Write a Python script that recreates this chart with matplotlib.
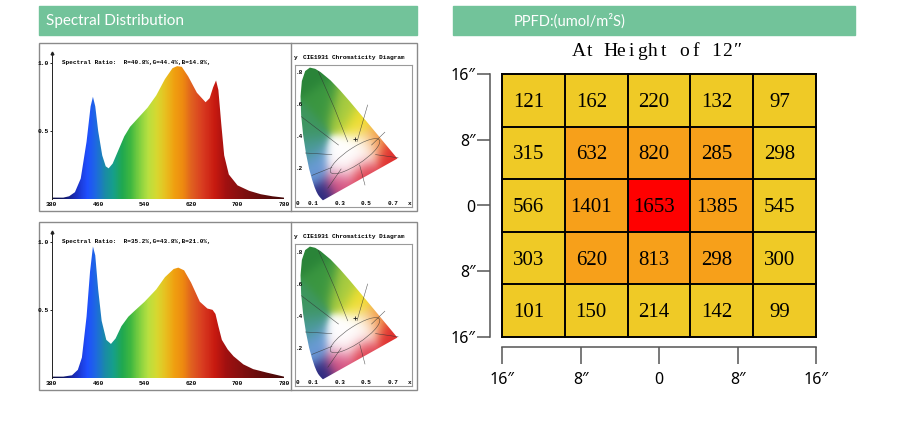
import numpy as np
import matplotlib
matplotlib.use('Agg')
import matplotlib.pyplot as plt
from matplotlib.colors import LinearSegmentedColormap, ListedColormap, Normalize, to_rgb
from matplotlib.patches import Rectangle, Polygon, Ellipse

# Spectrum 1 (top)
wl_1 = [380, 400, 410, 420, 430, 440, 447, 451, 455, 460, 467, 473, 478, 485, 495, 505, 515, 530,
        545, 560, 575, 588, 596, 604, 615, 630, 645, 652, 658, 663, 667, 672, 677, 685, 700, 720,
        740, 760, 780]
int_1 = [0.01, 0.01, 0.02, 0.05, 0.15, 0.42, 0.68, 0.75, 0.68, 0.50, 0.32, 0.24, 0.225, 0.26, 0.36,
         0.46, 0.53, 0.60, 0.67, 0.76, 0.88, 0.96, 0.975, 0.97, 0.90, 0.78, 0.71, 0.74, 0.82, 0.87,
         0.80, 0.55, 0.32, 0.18, 0.10, 0.06, 0.035, 0.02, 0.01]
ratio_1 = "Spectral Ratio:  R=40.8%,G=44.4%,B=14.8%,"

# Spectrum 2 (bottom)
wl_2 = [380, 400, 415, 425, 432, 440, 446, 451, 455, 460, 466, 474, 482, 490, 500, 512, 522, 540,
        560, 575, 590, 598, 608, 620, 635, 648, 657, 662, 667, 673, 683, 693, 710, 727, 750, 770, 780]
int_2 = [0.01, 0.01, 0.02, 0.06, 0.15, 0.45, 0.78, 0.965, 0.90, 0.65, 0.42, 0.28, 0.25, 0.29, 0.38,
         0.45, 0.49, 0.56, 0.65, 0.74, 0.80, 0.81, 0.79, 0.70, 0.56, 0.51, 0.50, 0.47, 0.38, 0.28,
         0.21, 0.16, 0.10, 0.065, 0.04, 0.02, 0.01]
ratio_2 = "Spectral Ratio:  R=35.2%,G=43.8%,B=21.0%,"

wl_ticks = [380, 460, 540, 620, 700, 780]

# CIE 1931 spectral locus (x, y)
locus_x = [0.1741, 0.1714, 0.1644, 0.1566, 0.1440, 0.1355, 0.1241, 0.1096, 0.0913, 0.0687, 0.0454,
           0.0235, 0.0082, 0.0039, 0.0139, 0.0389, 0.0743, 0.1142, 0.1547, 0.2296, 0.3016, 0.3731,
           0.4441, 0.5125, 0.5752, 0.6270, 0.6915, 0.7190, 0.7347]
locus_y = [0.0050, 0.0051, 0.0109, 0.0177, 0.0297, 0.0399, 0.0578, 0.0868, 0.1327, 0.2007, 0.2950,
           0.4127, 0.5384, 0.6548, 0.7502, 0.8120, 0.8338, 0.8262, 0.8059, 0.7543, 0.6923, 0.6245,
           0.5547, 0.4866, 0.4242, 0.3725, 0.3083, 0.2809, 0.2653]
# colour spots seen in the diagram
spot_x = [0.07, 0.18, 0.03, 0.33, 0.46, 0.57, 0.68, 0.48, 0.30, 0.10, 0.17, 0.04, 0.41, 0.31, 0.50]
spot_y = [0.80, 0.62, 0.45, 0.58, 0.49, 0.39, 0.29, 0.16, 0.10, 0.20, 0.02, 0.32, 0.28, 0.23, 0.34]
spot_c = ['#2a8438', '#3a9640', '#3e9660', '#a8cc40', '#f2e030', '#f09030', '#e03030', '#e04050',
          '#d85080', '#6a9ad8', '#2a2a80', '#4a9a98', '#ffffff', '#ffffff', '#ffffff']
# a few region boundaries seen inside the diagram
region_lines = [
    [(0.138, 0.81), (0.26, 0.58), (0.36, 0.37)],
    [(0.01, 0.527), (0.29, 0.35)],
    [(0.04, 0.30), (0.24, 0.29)],
    [(0.51, 0.60), (0.43, 0.37)],
    [(0.64, 0.43), (0.54, 0.35)],
    [(0.74, 0.27), (0.57, 0.29)],
    [(0.49, 0.10), (0.45, 0.225)],
    [(0.21, 0.08), (0.31, 0.20)],
    [(0.09, 0.16), (0.24, 0.21)],
]

# PPFD grid
ppfd = [[121, 162, 220, 132, 97],
        [315, 632, 820, 285, 298],
        [566, 1401, 1653, 1385, 545],
        [303, 620, 813, 298, 300],
        [101, 150, 214, 142, 99]]
levels = [[0, 0, 0, 0, 0],
          [0, 1, 1, 1, 0],
          [0, 1, 2, 1, 0],
          [0, 1, 1, 1, 0],
          [0, 0, 0, 0, 0]]
grid_ticks = [-16, -8, 0, 8, 16]
grid_labels = ['16″', '8″', '0', '8″', '16″']
grid_title = 'At Height of 12″'

W, H = 900, 440
fig = plt.figure(figsize=(9, 4.4), dpi=100)
green = '#72c39a'
mono = ['Liberation Mono', 'DejaVu Sans Mono']
serif = ['Liberation Serif', 'DejaVu Serif']


def px_axes(x0, y0, x1, y1):
    return fig.add_axes([x0 / W, 1 - y1 / H, (x1 - x0) / W, (y1 - y0) / H])


bg = fig.add_axes([0, 0, 1, 1])
bg.set_xlim(0, W)
bg.set_ylim(H, 0)
bg.axis('off')

# header bars
bg.add_patch(Rectangle((39, 6), 378, 29, color=green))
bg.add_patch(Rectangle((453, 6), 402, 29, color=green))
bg.text(46, 21, 'Spectral Distribution', color='white', fontsize=11,
        family=['Lato', 'DejaVu Sans'], va='center')
bg.text(514, 21, 'PPFD:(umol/m²S)', color='white', fontsize=10.5,
        family=['Lato', 'DejaVu Sans'], va='center')

spec_cmap = LinearSegmentedColormap.from_list('spec', [
    (0.000, '#0a0a3a'), (0.050, '#10186a'), (0.100, '#1a2ec0'), (0.150, '#1f4fff'),
    (0.1875, '#1e6ae0'), (0.225, '#1a8aa8'), (0.2625, '#16a08a'), (0.300, '#20a850'),
    (0.3375, '#40b840'), (0.375, '#80d040'), (0.4125, '#b8e040'), (0.450, '#d8d830'),
    (0.4875, '#e8c020'), (0.525, '#f0a010'), (0.5625, '#ee8a10'), (0.600, '#e06020'),
    (0.650, '#d83a20'), (0.700, '#c81a10'), (0.750, '#a01010'), (0.825, '#801010'),
    (1.000, '#400808')])


def cie_image(xx, yy):
    cols = np.array([to_rgb(c) for c in spot_c])
    wsum = np.zeros(xx.shape)
    acc = np.zeros(xx.shape + (3,))
    for sx, sy, c in zip(spot_x, spot_y, cols):
        w = np.exp(-((xx - sx) ** 2 + (yy - sy) ** 2) / 0.09 ** 2) + 1e-9
        wsum += w
        acc += w[..., None] * c
    return np.clip(acc / wsum[..., None], 0, 1)


def spectrum_panel(dy, wl, inten, ratio):
    bg.add_patch(Rectangle((39, 43.3 + dy), 378, 167.5, fill=False, edgecolor='#8a8a8a', lw=1))
    bg.plot([291, 291], [43.3 + dy, 210.8 + dy], color='#8a8a8a', lw=1)

    base = 199 + dy
    ax = px_axes(51.7, base - 145.8, 284, base)
    ax.set_xlim(380, 780)
    ax.set_ylim(0, 1.07)
    poly = Polygon([(380, 0)] + list(zip(wl, inten)) + [(780, 0)], closed=True,
                   facecolor='none', edgecolor='none')
    ax.add_patch(poly)
    im = ax.imshow(np.linspace(380, 780, 400)[None, :], extent=[380, 780, 0, 1.07],
                   aspect='auto', cmap=spec_cmap, norm=Normalize(380, 780), origin='lower')
    im.set_clip_path(poly)
    for s in ['top', 'right', 'bottom']:
        ax.spines[s].set_visible(False)
    ax.spines['left'].set_color('#222222')
    ax.spines['left'].set_linewidth(0.7)
    ax.plot([380], [1.07], marker='^', ms=2, color='#222222', clip_on=False)
    ax.set_yticks([0.5, 1.0])
    ax.set_yticklabels(['0.5', '1.0'])
    ax.set_xticks(wl_ticks)
    ax.set_xticklabels([str(t) for t in wl_ticks])
    ax.tick_params(axis='y', length=1.5, width=0.6, pad=0.5, labelsize=4.5)
    ax.tick_params(axis='x', length=0, pad=2, labelsize=4.5)
    for lab in ax.get_xticklabels() + ax.get_yticklabels():
        lab.set_family(mono)
        lab.set_fontweight('bold')
    ax.text(397, 1.0, ratio, family=mono, fontweight='bold', fontsize=4.3, va='center')

    # chromaticity diagram
    cx = px_axes(295, 65 + dy, 412, 207 + dy)
    cx.set_xlim(-0.038, 0.845)
    cx.set_ylim(-0.0375, 0.85)
    gx, gy = np.meshgrid(np.linspace(0, 0.75, 220), np.linspace(0, 0.85, 220))
    locus = Polygon(list(zip(locus_x, locus_y)), closed=True, facecolor='none', edgecolor='none')
    cx.add_patch(locus)
    cim = cx.imshow(cie_image(gx, gy), extent=[0, 0.75, 0, 0.85], origin='lower',
                    aspect='auto', interpolation='bilinear')
    cim.set_clip_path(locus)
    for seg in region_lines:
        sx, sy = zip(*seg)
        cx.plot(sx, sy, color='#333333', lw=0.4, alpha=0.8)
    cx.add_patch(Ellipse((0.415, 0.28), 0.42, 0.11, angle=28, fill=False, edgecolor='#333333',
                         lw=0.4, alpha=0.8))
    cx.plot([0.415], [0.39], marker='+', ms=3, mew=0.6, color='#222222')
    cx.set_xticks([])
    cx.set_yticks([])
    for s in cx.spines.values():
        s.set_color('#9a9a9a')
        s.set_linewidth(0.8)
    for v, t in zip([0.8, 0.6, 0.4, 0.2], ['.8', '.6', '.4', '.2']):
        cx.text(-0.036, v, t, family=mono, fontweight='bold', fontsize=4.3, va='center')
    cx.text(-0.032, -0.0125, '0', family=mono, fontweight='bold', fontsize=4.3, va='center')
    for v in [0.1, 0.3, 0.5, 0.7]:
        cx.text(v, -0.0125, str(v), family=mono, fontweight='bold', fontsize=4.3,
                va='center', ha='center')
    cx.text(0.83, -0.0125, 'x', family=mono, fontweight='bold', fontsize=4.3, va='center', ha='center')
    cx.text(-0.045, 0.896, 'y', family=mono, fontweight='bold', fontsize=4.4, va='center', clip_on=False)
    cx.text(0.023, 0.896, 'CIE1931 Chromaticity Diagram', family=mono, fontweight='bold',
            fontsize=4.4, va='center', clip_on=False)


spectrum_panel(0, wl_1, int_1, ratio_1)
spectrum_panel(179, wl_2, int_2, ratio_2)

# PPFD heat grid; title set with fixed character pitch like the original
for k, ch in enumerate(grid_title):
    bg.text(573.3 + 10.6 * (k + 0.5), 56, ch, fontsize=14, family=serif, ha='center', va='baseline')
ax_h = px_axes(502, 74, 816, 337)
ax_h.imshow(levels, cmap=ListedColormap(['#efca26', '#f7a01a', '#ff0000']), vmin=0, vmax=2,
            extent=[-16, 16, -16, 16], aspect='auto', interpolation='nearest')
edges = np.linspace(-16, 16, 6)
for e in edges:
    ax_h.axvline(e, color='black', lw=1.4, clip_on=False)
    ax_h.axhline(e, color='black', lw=1.4, clip_on=False)
for i, row in enumerate(ppfd):
    for j, val in enumerate(row):
        ax_h.text(-16 + 6.4 * (j + 0.5) - 0.5, 16 - 6.4 * (i + 0.5) - 0.25, str(val),
                  ha='center', va='center', fontsize=15, family=serif)
ax_h.set_xlim(-16, 16)
ax_h.set_ylim(-16, 16)
ax_h.spines['top'].set_visible(False)
ax_h.spines['right'].set_visible(False)
ax_h.spines['left'].set_position(('outward', 8.6))
ax_h.spines['bottom'].set_position(('outward', 7))
for s in ['left', 'bottom']:
    ax_h.spines[s].set_color('#555555')
    ax_h.spines[s].set_linewidth(1.1)
ax_h.set_xticks(grid_ticks)
ax_h.set_xticklabels(grid_labels)
ax_h.set_yticks(grid_ticks)
ax_h.set_yticklabels(grid_labels)
ax_h.tick_params(axis='y', length=9.4, width=1.1, color='#555555', pad=1, labelsize=11.5)
ax_h.tick_params(axis='x', length=12, width=1.1, color='#555555', pad=6, labelsize=11.5)
for lab in ax_h.get_xticklabels() + ax_h.get_yticklabels():
    lab.set_family(['Noto Sans', 'DejaVu Sans'])

fig.savefig('out.png', dpi=100, facecolor='white')
